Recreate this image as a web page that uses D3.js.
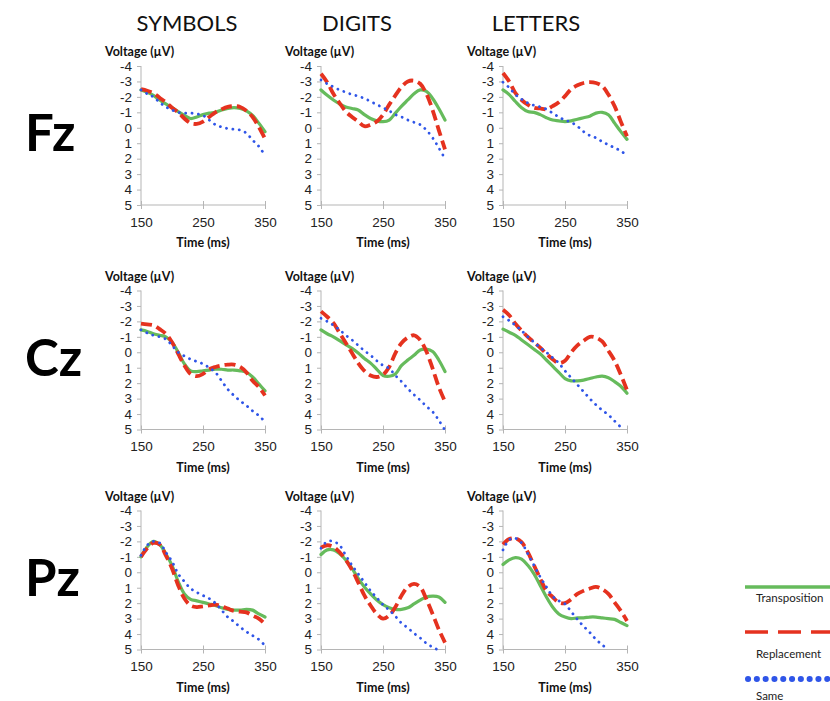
<!DOCTYPE html>
<html>
<head>
<meta charset="utf-8">
<script src="https://cdn.jsdelivr.net/npm/d3@7"></script>
<style>
  body { margin: 0; background: #fff; }
  svg { font-family: Lato, "Open Sans", sans-serif; }
  .axis path, .axis line { stroke: #b5b5b5; }
  .axis text { font-size: 13.5px; fill: #222; }
</style>
</head>
<body>
<div id="chart"></div>
<script>
// time points (ms)
const times = [150,160,170,180,190,200,210,220,230,240,250,260,270,280,290,300,310,320,330,340,350];
const xTicks = [150, 250, 350];
const yTicks = [-4,-3,-2,-1,0,1,2,3,4,5];
const columns = ["SYMBOLS", "DIGITS", "LETTERS"];
const rows = ["Fz", "Cz", "Pz"];
const seriesNames = ["Transposition", "Replacement", "Same"];

// Fz
const fzSymbolsTransposition = [-2.45,-2.3,-2.1,-1.8,-1.55,-1.3,-1.05,-0.8,-0.6,-0.7,-0.85,-0.95,-1.0,-1.15,-1.25,-1.3,-1.25,-1.1,-0.8,-0.3,0.25];
const fzSymbolsReplacement   = [-2.5,-2.4,-2.25,-1.95,-1.65,-1.3,-1.0,-0.6,-0.3,-0.25,-0.4,-0.7,-1.0,-1.2,-1.35,-1.4,-1.35,-1.1,-0.7,-0.05,0.7];
const fzSymbolsSame          = [-2.45,-2.2,-2.0,-1.65,-1.35,-1.15,-1.0,-0.95,-0.95,-0.9,-0.8,-0.5,-0.2,-0.05,0.05,0.1,0.15,0.35,0.8,1.2,1.8];
const fzDigitsTransposition  = [-2.45,-2.1,-1.8,-1.55,-1.35,-1.25,-1.15,-0.85,-0.6,-0.45,-0.4,-0.5,-0.95,-1.4,-1.8,-2.2,-2.45,-2.35,-1.9,-1.25,-0.5];
const fzDigitsReplacement    = [-3.5,-2.95,-2.2,-1.6,-1.05,-0.7,-0.4,-0.1,-0.2,-0.4,-0.85,-1.5,-2.1,-2.65,-3.0,-3.05,-2.85,-2.2,-1.15,0.15,1.4];
const fzDigitsSame           = [-3.1,-2.85,-2.65,-2.45,-2.3,-2.15,-2.05,-1.9,-1.7,-1.5,-1.3,-1.1,-0.85,-0.7,-0.5,-0.35,-0.2,0.15,0.65,1.3,2.0];
const fzLettersTransposition = [-2.45,-2.15,-1.7,-1.3,-1.05,-1.0,-0.85,-0.65,-0.5,-0.45,-0.4,-0.45,-0.55,-0.65,-0.75,-0.95,-1.0,-0.85,-0.3,0.25,0.75];
const fzLettersReplacement   = [-3.55,-3.0,-2.25,-1.8,-1.5,-1.3,-1.25,-1.2,-1.4,-1.65,-2.05,-2.5,-2.75,-2.9,-2.95,-2.9,-2.7,-2.15,-1.4,-0.4,0.55];
const fzLettersSame          = [-2.95,-2.6,-2.15,-1.85,-1.6,-1.45,-1.35,-1.2,-0.95,-0.7,-0.5,-0.35,-0.1,0.25,0.5,0.65,0.9,1.1,1.3,1.5,1.8];

// Cz
const czSymbolsTransposition = [-1.45,-1.35,-1.2,-1.1,-1.0,-0.65,0.0,0.75,1.2,1.25,1.2,1.15,1.1,1.1,1.15,1.15,1.2,1.3,1.6,2.05,2.5];
const czSymbolsReplacement   = [-1.85,-1.8,-1.75,-1.5,-1.2,-0.65,0.1,0.85,1.4,1.55,1.4,1.1,0.95,0.85,0.8,0.8,0.95,1.3,1.85,2.25,2.8];
const czSymbolsSame          = [-1.45,-1.25,-1.1,-1.0,-0.85,-0.45,0.0,0.25,0.45,0.6,0.75,1.0,1.3,1.85,2.4,2.8,3.15,3.45,3.8,4.1,4.5];
const czDigitsTransposition  = [-1.45,-1.2,-1.0,-0.75,-0.5,-0.25,0.05,0.4,0.7,1.1,1.5,1.55,1.4,0.85,0.5,0.2,-0.15,-0.2,-0.05,0.5,1.25];
const czDigitsReplacement    = [-2.65,-2.3,-1.9,-1.25,-0.6,0.05,0.7,1.2,1.5,1.6,1.45,0.95,0.05,-0.6,-0.95,-1.1,-0.8,-0.05,1.05,2.25,3.2];
const czDigitsSame           = [-2.2,-2.0,-1.75,-1.45,-1.1,-0.8,-0.45,-0.1,0.2,0.55,0.85,1.05,1.5,1.9,2.35,2.75,3.1,3.5,3.85,4.4,5.05];
const czLettersTransposition = [-1.5,-1.3,-1.1,-0.8,-0.5,-0.2,0.1,0.5,0.9,1.3,1.7,1.85,1.85,1.8,1.7,1.6,1.55,1.65,1.9,2.2,2.65];
const czLettersReplacement   = [-2.75,-2.4,-1.85,-1.4,-1.0,-0.65,-0.3,0.1,0.45,0.7,0.55,0.0,-0.45,-0.75,-1.0,-0.95,-0.7,-0.1,0.55,1.45,2.45];
const czLettersSame          = [-2.3,-2.05,-1.75,-1.4,-1.0,-0.65,-0.3,0.0,0.35,0.7,1.2,1.65,2.1,2.55,3.0,3.4,3.75,4.05,4.45,4.85,null];

// Pz
const pzSymbolsTransposition = [-1.0,-1.65,-2.0,-1.8,-1.2,-0.45,0.6,1.4,1.75,1.85,1.95,2.05,2.15,2.3,2.4,2.45,2.45,2.4,2.45,2.7,2.9];
const pzSymbolsReplacement   = [-1.0,-1.55,-1.9,-1.8,-1.1,-0.25,0.85,1.7,2.15,2.25,2.2,2.15,2.1,2.2,2.35,2.5,2.55,2.6,2.8,3.0,3.35];
const pzSymbolsSame          = [-1.1,-1.75,-2.0,-1.9,-1.3,-0.7,0.1,0.6,1.05,1.3,1.5,1.7,2.0,2.45,2.9,3.2,3.55,3.85,4.1,4.35,4.75];
const pzDigitsTransposition  = [-1.15,-1.45,-1.45,-1.2,-0.8,-0.25,0.4,0.95,1.4,1.8,2.1,2.3,2.4,2.4,2.3,2.05,1.8,1.6,1.55,1.6,1.95];
const pzDigitsReplacement    = [-1.6,-1.75,-1.65,-1.3,-0.8,-0.15,0.65,1.5,2.15,2.7,3.0,2.8,2.25,1.5,0.95,0.75,0.95,1.75,2.7,3.7,4.55];
const pzDigitsSame           = [-1.55,-2.0,-2.0,-1.75,-1.1,-0.45,0.1,0.65,1.2,1.65,2.1,2.45,2.85,3.3,3.6,3.95,4.25,4.6,4.85,5.05,null];
const pzLettersTransposition = [-0.5,-0.8,-0.95,-0.85,-0.45,0.1,0.85,1.6,2.25,2.7,2.9,3.0,2.95,2.95,2.9,2.9,2.95,3.0,3.05,3.25,3.45];
const pzLettersReplacement   = [-1.8,-2.15,-2.2,-1.95,-1.3,-0.45,0.4,1.2,1.6,1.95,2.0,1.75,1.4,1.2,1.05,0.95,1.1,1.4,1.95,2.5,3.15];
const pzLettersSame          = [-1.45,-2.1,-2.2,-1.9,-1.2,-0.45,0.3,0.95,1.55,1.85,2.05,2.55,3.05,3.5,3.9,4.35,4.7,5.0,null,null,null];

const panelData = [
  [[fzSymbolsTransposition, fzSymbolsReplacement, fzSymbolsSame],
   [fzDigitsTransposition, fzDigitsReplacement, fzDigitsSame],
   [fzLettersTransposition, fzLettersReplacement, fzLettersSame]],
  [[czSymbolsTransposition, czSymbolsReplacement, czSymbolsSame],
   [czDigitsTransposition, czDigitsReplacement, czDigitsSame],
   [czLettersTransposition, czLettersReplacement, czLettersSame]],
  [[pzSymbolsTransposition, pzSymbolsReplacement, pzSymbolsSame],
   [pzDigitsTransposition, pzDigitsReplacement, pzDigitsSame],
   [pzLettersTransposition, pzLettersReplacement, pzLettersSame]]
];

const W = 830, H = 701;
const colX = [141, 321, 503];
const rowY = [66, 290.5, 510.5];
const plotW = 124, plotH = 139;

// line styles for each series
const styles = [
  { color: "#66bb5c", width: 3.2, dash: null, cap: "round" },
  { color: "#e5321f", width: 3.8, dash: "11 5", cap: "butt" },
  { color: "#2f55e8", width: 2.8, dash: "0.1 6.3", cap: "round" }
];

const svg = d3.select("#chart").append("svg")
  .attr("width", W)
  .attr("height", H);

const defs = svg.append("defs");

// column headers
svg.selectAll(".colhead")
  .data(columns)
  .enter().append("text")
  .attr("class", "colhead")
  .attr("x", (d, i) => [187, 357, 536][i])
  .attr("y", 31)
  .attr("text-anchor", "middle")
  .style("font-size", "22px")
  .style("fill", "#111")
  .text(d => d);

// row labels
svg.selectAll(".rowhead")
  .data(rows)
  .enter().append("text")
  .attr("class", "rowhead")
  .attr("x", 25)
  .attr("y", (d, i) => rowY[i] + 85)
  .style("font-size", "51px")
  .style("font-weight", "bold")
  .style("fill", "#000")
  .text(d => d);

rows.forEach((rowName, r) => {
  columns.forEach((colName, c) => {
    const x0 = colX[c], y0 = rowY[r];
    const x = d3.scaleLinear().domain([150, 350]).range([x0, x0 + plotW]);
    const y = d3.scaleLinear().domain([-4, 5]).range([y0, y0 + plotH]);
    const g = svg.append("g");

    const clipId = "clip-" + r + "-" + c;
    defs.append("clipPath").attr("id", clipId)
      .append("rect")
      .attr("x", x0 - 2).attr("y", y0 - 6)
      .attr("width", plotW + 8).attr("height", plotH + 8);

    // y axis
    const ya = g.append("g")
      .attr("class", "axis")
      .attr("transform", `translate(${x0},0)`)
      .call(d3.axisLeft(y).tickValues(yTicks).tickSize(4).tickPadding(5).tickFormat(d => String(d)));
    ya.select(".domain").attr("d", `M0,${y0}V${y0 + plotH}`);

    // x axis
    const xa = g.append("g")
      .attr("class", "axis")
      .attr("transform", `translate(0,${y0 + plotH})`)
      .call(d3.axisBottom(x).tickValues(xTicks).tickSize(4).tickPadding(8));
    xa.select(".domain").attr("d", `M${x0},0H${x0 + plotW}`);
    xa.selectAll(".tick line").attr("y1", -4).attr("y2", 4);

    // axis titles
    g.append("text")
      .attr("x", x0 - 36)
      .attr("y", y0 - 10)
      .style("font-size", "12.5px")
      .style("font-weight", "bold")
      .style("fill", "#111")
      .text("Voltage (\u00b5V)");

    g.append("text")
      .attr("x", x0 + plotW / 2)
      .attr("y", y0 + plotH + 42)
      .attr("text-anchor", "middle")
      .style("font-size", "12.5px")
      .style("font-weight", "bold")
      .style("fill", "#111")
      .text("Time (ms)");

    const line = d3.line()
      .defined(d => d[1] !== null)
      .x(d => x(d[0]))
      .y(d => y(d[1]))
      .curve(d3.curveCatmullRom.alpha(0.5));

    const lines = g.append("g").attr("clip-path", `url(#${clipId})`);
    panelData[r][c].forEach((vals, s) => {
      const st = styles[s];
      lines.append("path")
        .datum(times.map((t, i) => [t, vals[i]]))
        .attr("d", line)
        .attr("fill", "none")
        .attr("stroke", st.color)
        .attr("stroke-width", st.width)
        .attr("stroke-linecap", st.cap)
        .attr("stroke-dasharray", st.dash);
    });
  });
});

// legend
const legend = svg.append("g");
const legendY = [587, 632, 679];
const legendTextY = [602, 658, 700];
const legendStyles = [
  { color: "#66bb5c", width: 3.5, dash: null, cap: "butt" },
  { color: "#e5321f", width: 3.5, dash: "23 10", cap: "butt" },
  { color: "#2f55e8", width: 6, dash: "0.1 8.7", cap: "round" }
];
seriesNames.forEach((name, i) => {
  const st = legendStyles[i];
  legend.append("line")
    .attr("x1", i === 2 ? 748 : 745).attr("x2", 834)
    .attr("y1", legendY[i]).attr("y2", legendY[i])
    .attr("stroke", st.color)
    .attr("stroke-width", st.width)
    .attr("stroke-linecap", st.cap)
    .attr("stroke-dasharray", st.dash);
  legend.append("text")
    .attr("x", 756)
    .attr("y", legendTextY[i])
    .style("font-size", "11.5px")
    .style("fill", "#222")
    .text(name);
});
</script>
</body>
</html>
